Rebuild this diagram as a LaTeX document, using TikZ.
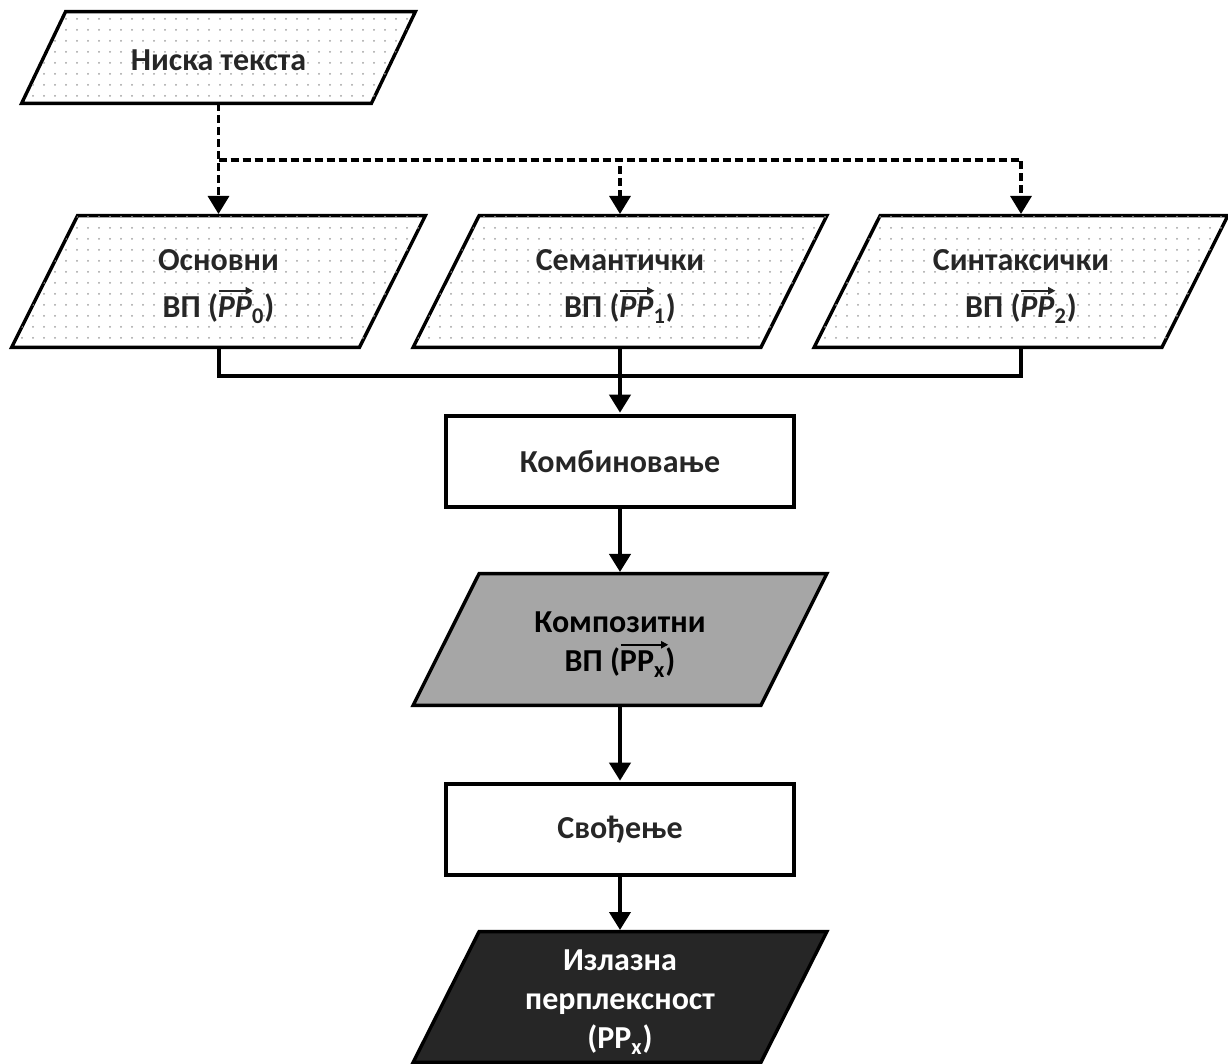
\documentclass[tikz,border=0pt]{standalone}
\usepackage{fontspec}
\setmainfont{Carlito}
\usetikzlibrary{arrows.meta,patterns.meta,calc}
\pgfdeclarelayer{bg}
\pgfsetlayers{bg,main}
\definecolor{ink}{HTML}{262626}
\definecolor{midgray}{HTML}{A6A6A6}
\definecolor{darkfill}{HTML}{262626}
\definecolor{dotgray}{HTML}{A0A0A0}

% parallelogram outline around a (borderless) node: node name, slant, style
\newcommand\paraoutline[3]{%
  \path[#3] (#1.south west) -- ([xshift=-#2]#1.south east)
    -- (#1.north east) -- ([xshift=#2]#1.north west) -- cycle;}

% vector arrow set above a piece of text: #1 arrow start offset, #2 extra length, #3 text
\newsavebox\vecbox
\newlength\vecwd
\newlength\vecht
\newcommand\vecover[3]{\begingroup
  \sbox\vecbox{#3}\setlength\vecwd{\wd\vecbox}\setlength\vecht{\ht\vecbox}%
  \leavevmode\rlap{\raisebox{\dimexpr\vecht+3.2pt\relax}{\tikz[baseline=0pt]
    \draw[line width=0.9pt, -{Triangle[length=3.6pt,width=3.6pt]}]
      (#1,0) -- ($(\vecwd,0)+(#1,0)+(#2,0)$);}}%
  \usebox\vecbox\endgroup}
% extra room above a first line, pushing a label block down a little
\newcommand\topgap{\rule{0pt}{15.5pt}}

\begin{document}
\begin{tikzpicture}[x=0.5pt,y=-0.5pt,
  lbl/.style={inner sep=0pt, align=center,
    font=\fontsize{16}{19.5}\selectfont\bfseries, text=ink},
  iobox/.style={lbl, minimum width=206.5pt, minimum height=65.5pt},
  rectbox/.style={lbl, draw, line width=1.7pt, fill=white,
    minimum width=174pt, minimum height=45.5pt},
  outline/.style={draw, line width=1.7pt, line join=miter},
  dotfill/.style={outline, fill=white,
    postaction={pattern={Dots[distance=5.5pt,radius=0.5pt]}, pattern color=dotgray}},
  conn/.style={line width=2pt},
  arr/.style={conn, shorten >=0.8pt, -{Triangle[length=9pt,width=10.5pt]}},
  dasharr/.style={arr, line width=1.6pt, dash pattern=on 4pt off 2pt}
]
\useasboundingbox (0,0) rectangle (1228,1064);

% input text
\node[lbl, minimum width=196.5pt, minimum height=45.5pt] (src) at (218.5,57.5)
  {\rule{0pt}{13pt}Ниска текста};

% three perplexity vectors
\node[iobox] (base) at (218.5,281.5)
  {\topgap Основни\\[4pt]ВП (\vecover{2pt}{0pt}{\itshape PP}\textsubscript{0})};
\node[iobox] (sem) at (620,281.5)
  {\topgap Семантички\\[4pt]ВП (\vecover{2pt}{0pt}{\itshape PP}\textsubscript{1})};
\node[iobox] (syn) at (1021,281.5)
  {\topgap Синтаксички\\[4pt]ВП (\vecover{2pt}{0pt}{\itshape PP}\textsubscript{2})};

% processing chain
\node[rectbox] (comb) at (620,461.5) {Комбиновање};
\node[iobox, text=black] (comp) at (620,639.5)
  {\topgap Композитни\\ВП (\vecover{0pt}{1pt}{PP\textsubscript{x}})};
\node[rectbox] (red) at (620,829.5) {Свођење};
\node[iobox, minimum height=65pt, text=white] (out) at (620,997)
  {\topgap Излазна\\перплексност\\(PP\textsubscript{x})};

\begin{pgfonlayer}{bg}
  \paraoutline{src}{22pt}{dotfill}
  \paraoutline{base}{33pt}{dotfill}
  \paraoutline{sem}{33pt}{dotfill}
  \paraoutline{syn}{33pt}{dotfill}
  \paraoutline{comp}{33pt}{outline, fill=midgray}
  \paraoutline{out}{33pt}{outline, fill=darkfill}
\end{pgfonlayer}

% fan-out of the input text
\coordinate (split) at (218.5,160);
\draw[dasharr] (src.south) -- (base.north);
\draw[dasharr] (split) -| (sem.north);
\draw[dasharr] (split) -| (syn.north);

% merge of the three vectors
\coordinate (join) at (620,376);
\draw[conn] (base.south) |- (join) -| (syn.south);
\draw[arr] (sem.south) -- (comb.north);

\draw[arr] (comb.south) -- (comp.north);
\draw[arr] (comp.south) -- (red.north);
\draw[arr] (red.south) -- (out.north);
\end{tikzpicture}
\end{document}
